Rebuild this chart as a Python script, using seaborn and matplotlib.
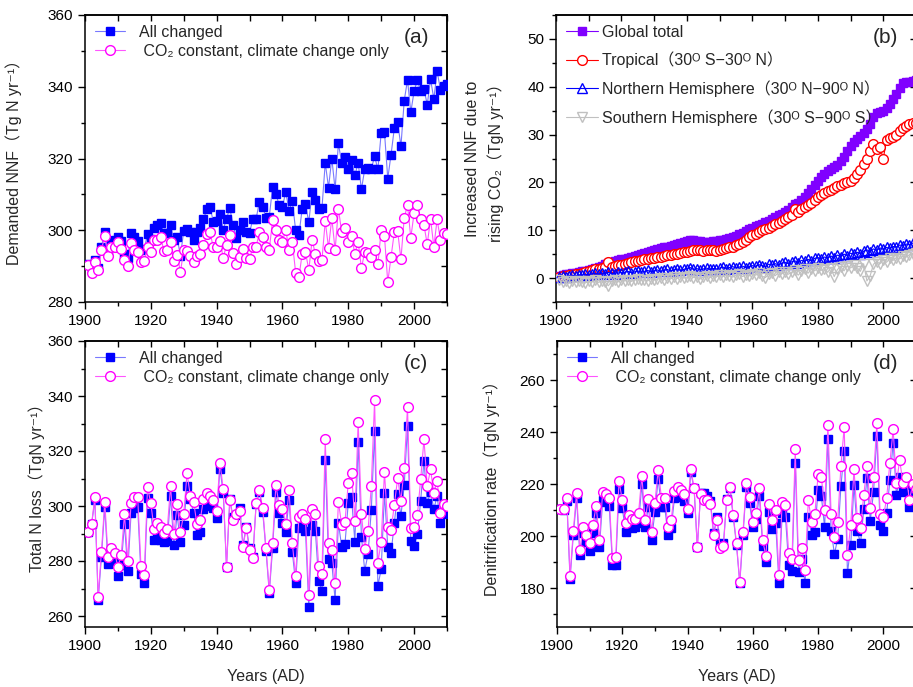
import numpy as np
import pandas as pd
import seaborn as sns
import matplotlib.pyplot as plt
from matplotlib.ticker import MultipleLocator

# ---- data ----
years = list(range(1901, 2011))

# (a) demanded NNF
nnf_all = [290.5, 289.5, 291.7, 289.6, 295.4, 299.4, 294.0, 297.0, 297.2, 298.1,
           297.0, 293.5, 292.4, 299.1, 298.0, 297.0, 294.4, 294.7, 298.9, 297.7,
           300.7, 301.4, 302.1, 299.1, 299.3, 301.4, 297.2, 298.0, 292.8, 299.8,
           300.3, 299.4, 297.2, 299.5, 300.5, 303.0, 305.8, 306.5, 302.3, 302.6,
           304.6, 300.2, 303.2, 306.2, 301.4, 297.9, 300.0, 302.3, 299.5, 299.3,
           303.1, 303.2, 308.0, 306.5, 303.5, 303.8, 312.0, 310.2, 307.0, 306.5,
           310.7, 305.5, 308.2, 300.0, 298.7, 306.0, 307.3, 302.2, 310.6, 308.3,
           306.0, 306.1, 318.8, 311.9, 320.0, 311.4, 324.2, 318.8, 320.5, 317.1,
           319.5, 315.3, 318.8, 311.4, 317.0, 317.4, 317.1, 320.6, 317.0, 327.1,
           327.3, 314.4, 321.1, 328.5, 330.1, 323.4, 336.1, 341.9, 332.9, 338.7,
           341.9, 338.7, 339.4, 335.0, 342.1, 336.6, 344.3, 339.2, 340.3, 340.8]
nnf_clim = [290.3, 288.0, 291.2, 288.9, 294.6, 298.3, 292.8, 295.4, 295.2, 296.8,
            294.9, 291.7, 290.0, 296.5, 294.4, 294.0, 291.2, 291.4, 295.4, 294.0,
            297.2, 297.4, 298.0, 294.3, 294.6, 296.6, 291.4, 293.2, 288.4, 294.4,
            294.3, 292.8, 291.2, 292.8, 293.5, 295.8, 298.9, 299.4, 295.2, 295.2,
            297.0, 292.4, 295.8, 298.6, 293.7, 290.5, 292.6, 294.9, 292.4, 292.1,
            295.2, 295.4, 299.5, 298.1, 295.4, 294.6, 302.8, 300.0, 297.2, 296.8,
            300.2, 294.4, 296.8, 288.2, 286.9, 293.5, 294.0, 288.9, 297.2, 293.5,
            291.4, 291.7, 302.5, 295.1, 303.4, 294.4, 306.0, 299.5, 300.7, 296.8,
            298.3, 293.5, 296.8, 289.4, 294.0, 293.7, 292.6, 294.4, 290.5, 300.0,
            298.3, 285.5, 292.6, 299.5, 299.8, 291.9, 303.5, 307.0, 297.9, 304.8,
            307.1, 303.0, 301.4, 296.1, 303.2, 295.4, 303.0, 297.4, 299.3, 299.0]

# (b) increased NNF due to rising CO2
co2_global = [0.5, 0.6, 0.8, 0.9, 1.0, 1.1, 1.2, 1.4, 1.5, 1.7,
              1.9, 2.1, 2.3, 2.6, 2.9, 3.2, 3.4, 3.5, 3.7, 3.9,
              4.0, 4.2, 4.4, 4.6, 4.8, 5.0, 5.2, 5.4, 5.6, 5.8,
              6.0, 6.2, 6.4, 6.6, 6.8, 7.0, 7.2, 7.4, 7.6, 7.7,
              7.9, 8.0, 7.8, 7.7, 7.6, 7.6, 7.6, 7.7, 7.8, 7.9,
              8.0, 8.2, 8.4, 8.6, 8.9, 9.2, 9.5, 9.9, 10.2, 10.5,
              10.8, 11.1, 11.4, 11.7, 12.0, 12.4, 12.8, 13.1, 13.4, 13.8,
              14.3, 14.9, 15.4, 15.8, 16.3, 17.0, 17.8, 18.6, 19.5, 20.4,
              21.2, 21.8, 22.3, 22.8, 23.2, 23.7, 24.4, 25.3, 26.5, 27.6,
              28.4, 29.0, 29.6, 30.3, 31.2, 32.3, 33.6, 34.5, 34.8, 34.9,
              35.5, 36.4, 37.4, 38.5, 39.8, 40.8, 41.0, 41.0, 41.2, 41.5]
co2_tropical = [0.3, 0.4, 0.5, 0.6, 0.7, 0.8, 0.9, 1.1, 1.2, 1.5,
                1.7, 1.9, 2.0, 2.2, 2.3, 3.3, 2.4, 2.6, 2.7, 2.8,
                3.0, 3.1, 3.3, 3.5, 3.6, 3.8, 3.9, 4.0, 4.1, 4.3,
                4.4, 4.5, 4.7, 4.8, 4.9, 5.0, 5.1, 5.3, 5.4, 5.5,
                5.7, 5.8, 5.9, 5.8, 5.7, 5.8, 5.9, 5.8, 5.7, 5.8,
                6.0, 6.2, 6.4, 6.6, 6.9, 7.2, 7.6, 8.0, 8.5, 9.0,
                9.3, 9.6, 10.0, 10.3, 10.5, 10.9, 11.3, 11.6, 12.0, 12.4,
                12.8, 13.2, 14.5, 13.9, 14.4, 14.9, 15.3, 15.8, 16.4, 17.0,
                17.4, 17.8, 18.2, 18.5, 18.8, 19.2, 19.4, 19.8, 20.1, 20.4,
                20.9, 21.7, 22.5, 23.8, 25.0, 26.5, 28.1, 27.0, 27.3, 25.0,
                28.8, 29.2, 29.4, 30.0, 30.8, 31.4, 31.8, 32.3, 32.4, 32.5]
co2_north = [0.3, 0.4, 0.2, 0.5, 0.6, 0.4, 0.7, 0.6, 0.8, 0.7,
             0.9, 1.0, 0.8, 1.1, 0.9, 1.2, 1.0, 0.9, 1.3, 1.1,
             1.2, 1.4, 1.1, 1.3, 1.5, 1.2, 1.4, 1.6, 1.3, 1.5,
             1.7, 1.4, 1.6, 1.8, 1.5, 1.7, 1.9, 1.6, 1.8, 2.0,
             2.2, 1.8, 2.0, 1.7, 1.9, 2.1, 1.8, 2.0, 1.9, 2.1,
             2.3, 2.0, 2.2, 2.4, 2.1, 2.3, 2.5, 2.2, 2.4, 2.6,
             2.5, 2.8, 2.6, 2.4, 2.9, 2.7, 3.0, 2.8, 3.1, 3.3,
             3.0, 3.4, 3.6, 3.2, 3.7, 3.5, 3.9, 3.6, 4.1, 4.3,
             4.0, 4.4, 4.2, 4.6, 4.3, 4.8, 4.5, 5.0, 4.7, 5.2,
             5.0, 5.4, 5.1, 5.6, 5.9, 5.5, 6.1, 5.8, 6.3, 6.0,
             6.4, 6.2, 6.6, 6.5, 6.9, 6.8, 7.1, 7.0, 7.3, 7.4]
co2_south = [-0.5, -0.8, -0.6, -1.0, -0.7, -0.9, -0.6, -0.8, -1.0, -0.7,
             -0.8, -0.5, -0.9, -0.6, -0.8, -1.6, -0.7, -0.5, -0.8, -0.4,
             -0.6, -0.3, -0.7, -0.4, -0.2, -0.5, -0.3, -0.6, -0.1, -0.4,
             -0.2, 0.0, -0.3, 0.1, -0.2, 0.2, -0.1, 0.3, 0.0, 0.2,
             0.4, 0.1, 0.3, -0.2, 0.2, 0.5, 0.1, 0.4, 0.2, 0.6,
             0.3, 0.7, 0.4, 0.2, 0.6, 0.8, 0.3, 0.7, 0.5, 0.9,
             0.6, 1.0, 0.4, 0.1, 0.8, 1.1, 0.5, 1.2, 0.9, 1.3,
             0.8, 1.2, 1.6, 0.6, 1.4, 1.8, 1.0, 1.9, 1.5, 2.1,
             1.6, 2.0, 1.2, 2.2, 0.3, 1.8, 2.4, 1.5, 2.6, 2.1,
             2.7, 2.2, 1.4, 3.0, -0.6, 0.5, 2.9, 3.4, 3.0, 3.8,
             3.3, 4.1, 3.7, 4.3, 4.0, 4.6, 4.4, 4.9, 5.1, 5.3]

# (c) total N loss
loss_all = [290.5, 293.3, 302.2, 265.8, 281.6, 299.5, 278.9, 282.8, 280.1, 274.7,
            278.5, 293.5, 276.5, 297.3, 299.2, 299.8, 275.3, 271.9, 302.8, 297.3,
            287.6, 288.8, 287.6, 287.0, 287.4, 303.6, 285.8, 296.7, 286.8, 293.1,
            307.3, 302.4, 297.6, 289.5, 290.7, 298.9, 300.6, 300.1, 299.2, 295.8,
            313.5, 304.8, 277.9, 302.5, 295.9, 296.7, 299.2, 285.8, 292.5, 284.6,
            281.6, 300.7, 305.1, 297.9, 283.8, 268.5, 284.6, 305.0, 297.3, 294.0,
            290.5, 302.2, 283.4, 271.9, 292.0, 293.5, 291.0, 263.4, 293.1, 291.0,
            272.8, 269.2, 316.7, 280.6, 279.2, 265.8, 293.9, 285.2, 286.2, 301.2,
            303.2, 287.0, 323.4, 288.8, 276.5, 282.5, 298.5, 327.3, 271.0, 277.0,
            304.6, 285.2, 282.8, 293.9, 304.4, 296.4, 307.6, 329.1, 287.3, 285.6,
            289.7, 301.9, 316.4, 301.0, 305.2, 298.9, 303.6, 293.9, 298.3, 297.0]
loss_clim = [290.7, 293.5, 303.2, 267.0, 283.4, 301.6, 281.6, 284.6, 283.0, 277.9,
             282.2, 297.0, 280.1, 301.2, 303.4, 303.4, 278.3, 274.9, 306.8, 301.0,
             291.6, 293.7, 292.5, 290.3, 291.5, 307.4, 289.8, 300.7, 290.4, 297.1,
             311.9, 303.8, 301.6, 293.5, 294.9, 302.5, 304.6, 303.8, 302.2, 298.3,
             315.8, 306.2, 277.9, 302.2, 294.9, 297.1, 298.3, 285.2, 291.9, 284.0,
             281.0, 301.0, 306.0, 299.2, 284.6, 269.5, 286.7, 307.6, 300.4, 298.8,
             293.5, 305.8, 286.4, 274.5, 296.0, 297.1, 295.2, 267.6, 298.8, 297.1,
             278.2, 275.3, 324.2, 286.7, 284.0, 271.9, 301.6, 293.1, 294.2, 308.5,
             312.1, 294.7, 330.7, 297.1, 284.5, 291.0, 307.4, 338.5, 279.4, 287.0,
             312.5, 292.5, 291.3, 300.4, 310.1, 301.8, 314.0, 335.9, 291.9, 292.5,
             296.7, 309.7, 324.2, 307.3, 313.3, 304.6, 309.2, 297.6, 300.7, 300.0]

# (d) denitrification rate
denit_all = [210.3, 210.0, 213.5, 183.5, 200.4, 214.5, 192.7, 201.0, 197.8, 194.4,
             201.0, 208.7, 195.6, 213.8, 213.2, 211.5, 188.8, 188.8, 218.1, 210.9,
             201.7, 203.6, 203.0, 203.3, 205.1, 219.9, 203.3, 211.3, 198.5, 209.4,
             221.8, 211.3, 211.3, 200.4, 203.0, 214.7, 215.1, 215.1, 213.6, 208.7,
             224.5, 218.3, 195.6, 216.7, 216.4, 215.4, 213.5, 201.0, 207.2, 196.9,
             197.2, 214.1, 218.3, 207.4, 196.5, 181.8, 200.4, 219.0, 212.6, 203.6,
             206.4, 215.4, 196.3, 190.1, 209.4, 202.7, 205.0, 181.8, 208.7, 207.4,
             188.8, 186.7, 228.2, 186.3, 191.0, 181.8, 207.4, 200.4, 201.7, 217.7,
             215.4, 203.3, 237.2, 202.1, 193.1, 198.8, 219.2, 232.8, 185.6, 196.5,
             219.6, 202.1, 197.2, 210.3, 222.2, 205.9, 217.1, 238.5, 204.2, 202.1,
             208.7, 221.5, 235.9, 215.8, 222.8, 217.0, 219.6, 211.0, 216.0, 214.0]
denit_clim = [210.3, 210.3, 214.5, 184.6, 202.0, 216.7, 194.6, 203.3, 200.4, 197.2,
              204.2, 211.7, 198.5, 217.1, 216.2, 214.5, 191.4, 192.0, 221.2, 213.8,
              204.9, 208.1, 206.4, 206.4, 209.0, 223.2, 206.2, 214.2, 201.7, 212.8,
              225.4, 214.7, 214.7, 203.6, 206.2, 217.4, 219.0, 217.7, 216.0, 210.3,
              225.6, 218.6, 195.6, 216.2, 213.8, 213.8, 212.3, 200.4, 206.2, 195.3,
              196.2, 213.8, 219.0, 208.1, 197.2, 182.4, 201.7, 220.3, 215.1, 205.5,
              209.0, 218.3, 198.5, 192.3, 212.3, 206.2, 210.0, 185.0, 213.2, 211.9,
              193.3, 191.0, 233.3, 190.8, 195.5, 186.9, 213.8, 205.5, 208.3, 223.7,
              222.8, 210.0, 242.7, 208.3, 199.5, 205.5, 226.9, 242.0, 192.7, 204.2,
              225.6, 207.0, 202.9, 215.8, 226.9, 210.6, 222.8, 243.3, 208.5, 207.2,
              214.5, 228.2, 241.0, 220.3, 229.2, 220.5, 222.8, 213.8, 220.0, 218.0]

# ---- style ----
sns.set_style('ticks')
plt.rcParams['font.family'] = ['Liberation Sans', 'DejaVu Sans', 'Noto Sans CJK SC']
plt.rcParams['axes.linewidth'] = 1.1
plt.rcParams['xtick.major.width'] = 1.0
plt.rcParams['ytick.major.width'] = 1.0
plt.rcParams['xtick.minor.width'] = 1.0
plt.rcParams['ytick.minor.width'] = 1.0
plt.rcParams['xtick.color'] = 'black'
plt.rcParams['ytick.color'] = 'black'
plt.rcParams['axes.edgecolor'] = 'black'

fig = plt.figure(figsize=(9.13, 6.87), dpi=100)
W, H = 913.0, 687.0


def box(left, top, right, bottom):
    return [left / W, 1 - bottom / H, (right - left) / W, (bottom - top) / H]


ax_a = fig.add_axes(box(85, 15, 447, 302))
ax_b = fig.add_axes(box(556, 15, 916, 302))
ax_c = fig.add_axes(box(85, 341, 447, 627))
ax_d = fig.add_axes(box(557, 341, 916, 627))


def serie(ax, y, label, line_color, marker, edge, face, ms, z):
    sns.lineplot(x=years, y=y, ax=ax, label=label, color=line_color, linewidth=0.8,
                 marker=marker, markersize=ms, markeredgecolor=edge,
                 markerfacecolor=face, markeredgewidth=1.0, zorder=z)


def frame(ax, ylim, ymaj, ymin, ystep_right):
    ax.set_xlim(1900, 2010)
    ax.set_ylim(*ylim)
    ax.xaxis.set_major_locator(MultipleLocator(20))
    ax.xaxis.set_minor_locator(MultipleLocator(10))
    ax.yaxis.set_major_locator(MultipleLocator(ymaj))
    ax.yaxis.set_minor_locator(MultipleLocator(ymin))
    ax.tick_params(which='major', direction='out', length=5, labelsize=11,
                   top=False, right=False)
    ax.tick_params(which='minor', direction='out', length=3, top=False, right=False)
    top = ax.secondary_xaxis('top')
    top.xaxis.set_major_locator(MultipleLocator(10))
    top.tick_params(direction='in', length=4, labeltop=False, labelbottom=False)
    right = ax.secondary_yaxis('right')
    right.yaxis.set_major_locator(MultipleLocator(ystep_right))
    right.tick_params(direction='in', length=4, labelright=False, labelleft=False)
    ax.set_xlabel('')


def pair_legend(ax):
    ax.legend(loc='upper left', frameon=False, fontsize=11.5, handlelength=1.9,
              handletextpad=0.9, labelspacing=0.25, borderaxespad=0.3, borderpad=0.3)


# (a)
serie(ax_a, nnf_all, 'All changed', '#7878ff', 's', '#0000ff', '#0000ff', 6, 3)
serie(ax_a, nnf_clim, ' CO₂ constant, climate change only', '#ff55ff', 'o', '#ff00ff', 'white', 7, 4)
frame(ax_a, (280, 360), 20, 10, 10)
ax_a.set_ylabel('Demanded NNF（Tg N yr⁻¹）', fontsize=11.5)
ax_a.yaxis.set_label_coords(-0.175, 0.5)
ax_a.text(0.915, 0.92, '(a)', transform=ax_a.transAxes, ha='center', va='center', fontsize=15)
pair_legend(ax_a)

# (b)
serie(ax_b, co2_global, 'Global total', '#8000ff', 's', '#8000ff', '#8000ff', 5.5, 3)
serie(ax_b, co2_tropical, 'Tropical（30ᴼ S−30ᴼ N）', '#ff0000', 'o', '#ff0000', 'white', 7, 4)
serie(ax_b, co2_north, 'Northern Hemisphere（30ᴼ N−90ᴼ N）', '#0000ff', '^', '#0000ff', 'none', 6.5, 5)
serie(ax_b, co2_south, 'Southern Hemisphere（30ᴼ S−90ᴼ S）', '#c0c0c0', 'v', '#c0c0c0', 'none', 6.5, 6)
frame(ax_b, (-5, 55), 10, 5, 10)
ax_b.set_ylabel('Increased NNF due to\nrising CO₂（TgN yr⁻¹）', fontsize=11.5, linespacing=1.5)
ax_b.yaxis.set_label_coords(-0.145, 0.5)
ax_b.text(0.915, 0.92, '(b)', transform=ax_b.transAxes, ha='center', va='center', fontsize=15)
ax_b.legend(loc='upper left', frameon=False, fontsize=11.5, handlelength=2.0,
            handletextpad=0.3, labelspacing=0.75, borderaxespad=0.3, borderpad=0.3)

# (c)
serie(ax_c, loss_all, 'All changed', '#7878ff', 's', '#0000ff', '#0000ff', 6, 3)
serie(ax_c, loss_clim, ' CO₂ constant, climate change only', '#ff55ff', 'o', '#ff00ff', 'white', 7, 4)
frame(ax_c, (256, 360), 20, 10, 10)
ax_c.set_ylabel('Total N loss（TgN yr⁻¹）', fontsize=11.5)
ax_c.yaxis.set_label_coords(-0.11, 0.5)
ax_c.text(0.915, 0.92, '(c)', transform=ax_c.transAxes, ha='center', va='center', fontsize=15)
pair_legend(ax_c)

# (d)
serie(ax_d, denit_all, 'All changed', '#7878ff', 's', '#0000ff', '#0000ff', 6, 3)
serie(ax_d, denit_clim, ' CO₂ constant, climate change only', '#ff55ff', 'o', '#ff00ff', 'white', 7, 4)
frame(ax_d, (165, 275), 20, 10, 20)
ax_d.set_ylabel('Denitrification rate（TgN yr⁻¹）', fontsize=11.5)
ax_d.yaxis.set_label_coords(-0.16, 0.5)
ax_d.text(0.915, 0.92, '(d)', transform=ax_d.transAxes, ha='center', va='center', fontsize=15)
pair_legend(ax_d)

ax_c.set_xlabel('Years (AD)', fontsize=11.5, labelpad=12)
ax_d.set_xlabel('Years (AD)', fontsize=11.5, labelpad=12)

fig.savefig('out.png', dpi=100)
